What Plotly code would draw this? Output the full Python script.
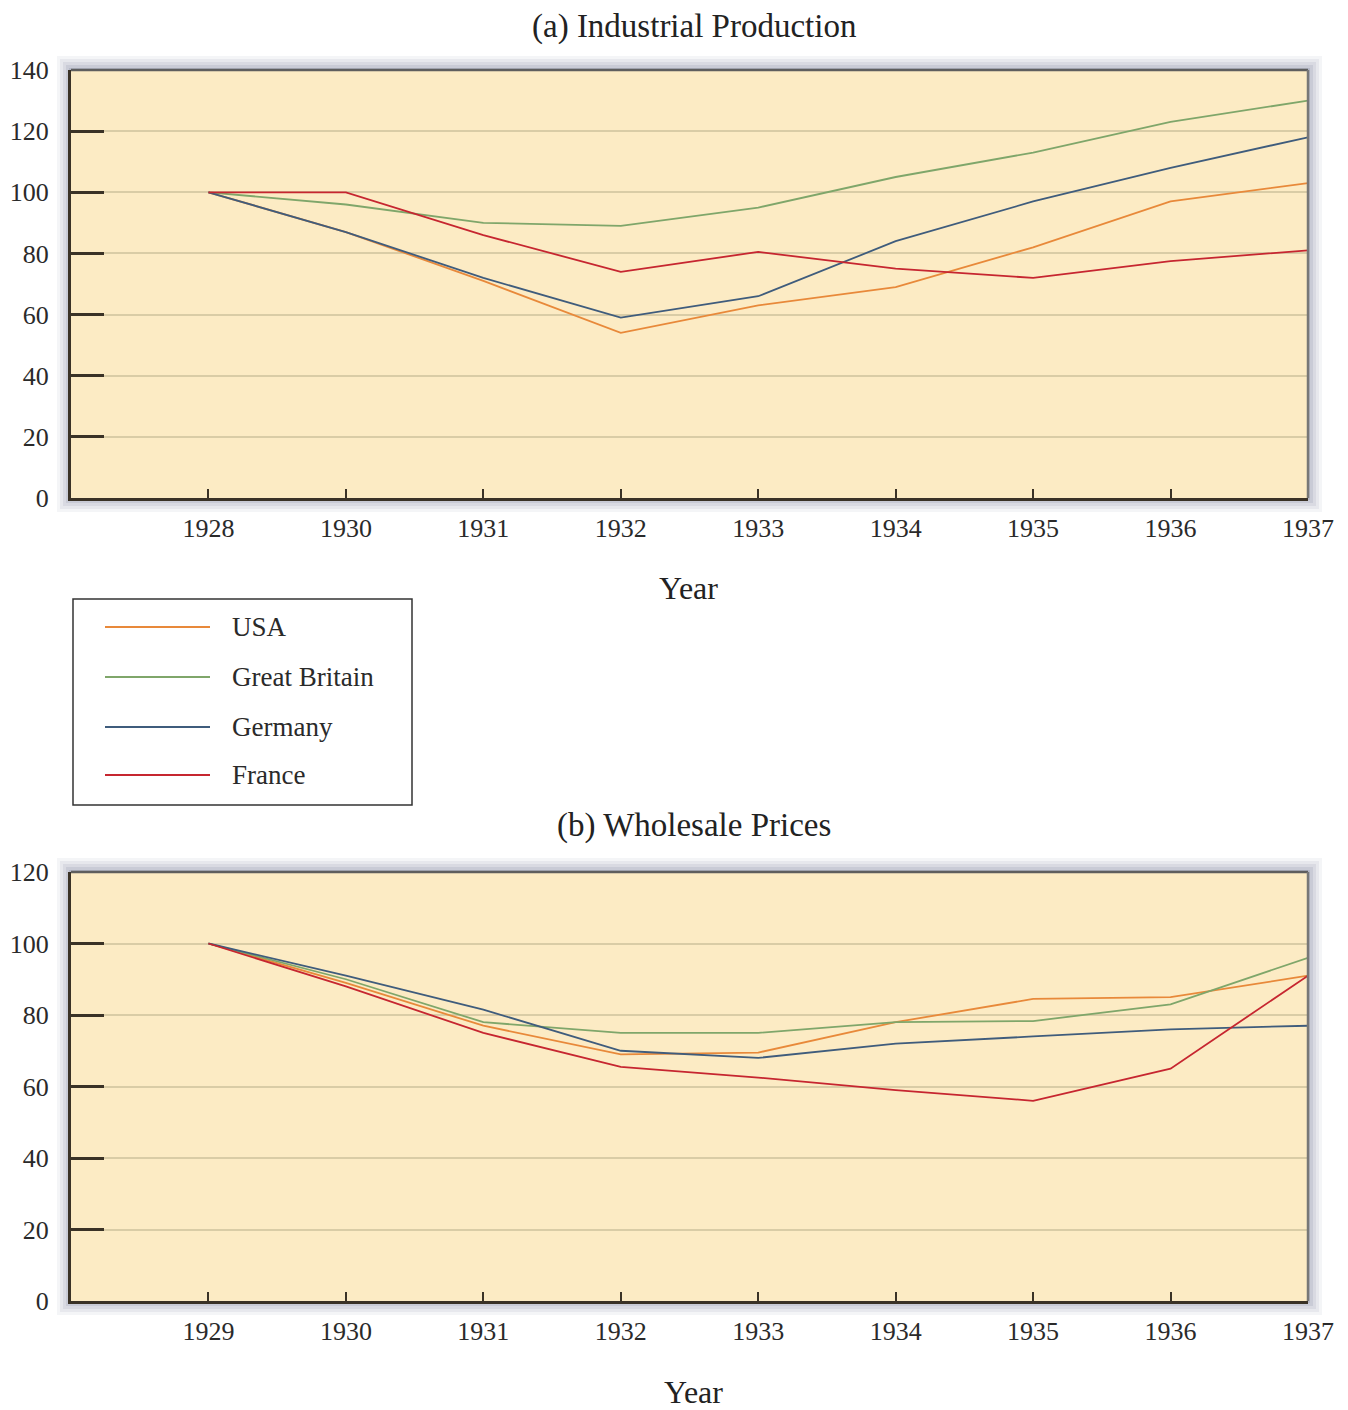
import plotly.graph_objects as go

# ---------------- data ----------------
series_names = ["USA", "Great Britain", "Germany", "France"]
series_colors = ["#E8893A", "#7FA66A", "#3F5C7C", "#C62630"]

years_a = ["1928", "1930", "1931", "1932", "1933", "1934", "1935", "1936", "1937"]
usa_a = [100, 87, 71, 54, 63, 69, 82, 97, 103]
gb_a = [100, 96, 90, 89, 95, 105, 113, 123, 130]
ger_a = [100, 87, 72, 59, 66, 84, 97, 108, 118]
fra_a = [100, 100, 86, 74, 80.5, 75, 72, 77.5, 81]

years_b = ["1929", "1930", "1931", "1932", "1933", "1934", "1935", "1936", "1937"]
usa_b = [100, 89, 77, 69, 69.5, 78, 84.5, 85, 91]
gb_b = [100, 90, 78, 75, 75, 78, 78.3, 83, 96]
ger_b = [100, 91, 81.5, 70, 68, 72, 74, 76, 77]
fra_b = [100, 88, 75, 65.5, 62.5, 59, 56, 65, 91]

yticks_a = [0, 20, 40, 60, 80, 100, 120, 140]
yticks_b = [0, 20, 40, 60, 80, 100, 120]

title_a = "(a) Industrial Production"
title_b = "(b) Wholesale Prices"
x_title = "Year"

# ---------------- layout helpers ----------------
OFF = 8                      # page body margin
W, H = 1340, 1402            # figure size
FONT = "Liberation Serif"
BG = "#FCEBC4"
GRID = "#D9CCA6"
DARK = "#3A3226"


def px(x):
    return (x - OFF) / W


def py(y):
    return 1 - (y - OFF) / H


PA = dict(x0=71, x1=1308, y0=70, y1=498)
PB = dict(x0=71, x1=1308, y0=872, y1=1301)

fig = go.Figure()

for vals, name, col in zip([usa_a, gb_a, ger_a, fra_a], series_names, series_colors):
    fig.add_trace(go.Scatter(x=years_a, y=vals, mode="lines", name=name,
                             line=dict(color=col, width=1.8), showlegend=False,
                             xaxis="x", yaxis="y"))
for vals, name, col in zip([usa_b, gb_b, ger_b, fra_b], series_names, series_colors):
    fig.add_trace(go.Scatter(x=years_b, y=vals, mode="lines", name=name,
                             line=dict(color=col, width=1.8), showlegend=False,
                             xaxis="x2", yaxis="y2"))

shapes = []
annotations = []

# panel shadows + backgrounds
for P in (PA, PB):
    for d, op in [(14, 0.07), (11, 0.09), (8, 0.11), (5, 0.14), (2, 0.2)]:
        shapes.append(dict(type="rect", xref="paper", yref="paper", layer="below",
                           x0=px(P["x0"] - d), x1=px(P["x1"] + d),
                           y0=py(P["y1"] + d), y1=py(P["y0"] - d),
                           fillcolor=f"rgba(105,112,140,{op})", line=dict(width=0)))
    shapes.append(dict(type="rect", xref="paper", yref="paper", layer="below",
                       x0=px(P["x0"]), x1=px(P["x1"]), y0=py(P["y1"]), y1=py(P["y0"]),
                       fillcolor=BG, line=dict(width=0)))
    # top & right gray borders
    shapes.append(dict(type="line", xref="paper", yref="paper", layer="above",
                       x0=px(P["x0"]), x1=px(P["x1"]), y0=py(P["y0"]), y1=py(P["y0"]),
                       line=dict(color="#5E5E5E", width=2.5)))
    shapes.append(dict(type="line", xref="paper", yref="paper", layer="above",
                       x0=px(P["x1"]), x1=px(P["x1"]), y0=py(P["y0"]), y1=py(P["y1"]),
                       line=dict(color="#777777", width=2.5)))

# manual legend
LB = dict(x0=73, x1=412, y0=599, y1=805)
shapes.append(dict(type="rect", xref="paper", yref="paper",
                   x0=px(LB["x0"]), x1=px(LB["x1"]), y0=py(LB["y1"]), y1=py(LB["y0"]),
                   line=dict(color="#333333", width=1.5), fillcolor="white", layer="below"))
leg_y = [627, 677, 727, 775]
for name, col, yy in zip(series_names, series_colors, leg_y):
    shapes.append(dict(type="line", xref="paper", yref="paper",
                       x0=px(105), x1=px(210), y0=py(yy), y1=py(yy),
                       line=dict(color=col, width=1.8)))
    annotations.append(dict(text=name, xref="paper", yref="paper", x=px(230), y=py(yy),
                            xanchor="left", yanchor="middle", showarrow=False,
                            font=dict(family=FONT, size=27, color="#2A2A2A")))

# titles
annotations.append(dict(text=title_a, xref="paper", yref="paper", x=px(694), y=py(26),
                        xanchor="center", yanchor="middle", showarrow=False,
                        font=dict(family=FONT, size=33, color="#222222")))
annotations.append(dict(text=title_b, xref="paper", yref="paper", x=px(694), y=py(825),
                        xanchor="center", yanchor="middle", showarrow=False,
                        font=dict(family=FONT, size=33, color="#222222")))
annotations.append(dict(text=x_title, xref="paper", yref="paper", x=px(688), y=py(588),
                        xanchor="center", yanchor="middle", showarrow=False,
                        font=dict(family=FONT, size=32, color="#222222")))
annotations.append(dict(text=x_title, xref="paper", yref="paper", x=px(693), y=py(1392),
                        xanchor="center", yanchor="middle", showarrow=False,
                        font=dict(family=FONT, size=32, color="#222222")))

tickfont = dict(family=FONT, size=26, color="#2A2A2A")

xaxis_common = dict(type="category", range=[-1, 8], showgrid=False, zeroline=False,
                    showline=True, linecolor=DARK, linewidth=3, automargin=False,
                    ticks="inside", ticklen=9, tickwidth=1.5, tickcolor=DARK,
                    tickfont=tickfont, ticklabelstandoff=5, fixedrange=True)
yaxis_common = dict(showgrid=True, gridcolor=GRID, gridwidth=1.5, zeroline=False,
                    showline=True, linecolor=DARK, linewidth=3, automargin=False,
                    ticks="inside", ticklen=33, tickwidth=3, tickcolor=DARK,
                    tickfont=tickfont, ticklabelstandoff=14, fixedrange=True)

fig.update_layout(
    width=W, height=H,
    autosize=False,
    margin=dict(l=0, r=0, t=0, b=0, pad=0),
    paper_bgcolor="white",
    plot_bgcolor="rgba(0,0,0,0)",
    font=dict(family=FONT),
    showlegend=False,
    shapes=shapes,
    annotations=annotations,
    xaxis=dict(domain=[px(PA["x0"]), px(PA["x1"])], anchor="y", **xaxis_common),
    yaxis=dict(domain=[py(PA["y1"]), py(PA["y0"])], anchor="x", range=[0, 140],
               tickvals=yticks_a, **yaxis_common),
    xaxis2=dict(domain=[px(PB["x0"]), px(PB["x1"])], anchor="y2", **xaxis_common),
    yaxis2=dict(domain=[py(PB["y1"]), py(PB["y0"])], anchor="x2", range=[0, 120],
                tickvals=yticks_b, **yaxis_common),
)

fig.write_html("out.html")
